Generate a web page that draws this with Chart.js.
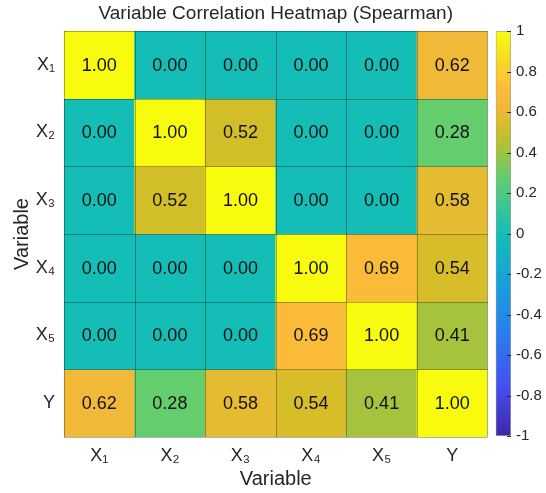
<!DOCTYPE html>
<html>
<head>
<meta charset="utf-8">
<script src="https://cdn.jsdelivr.net/npm/chart.js@4/dist/chart.umd.min.js"></script>
<style>
  html, body { margin: 0; padding: 0; background: #fff; }
  #wrap { position: relative; width: 546px; height: 493px; }
  #heat { position: absolute; left: 0; top: 0; }
  #cbar { position: absolute; left: 490px; top: 0; }
</style>
</head>
<body>
<div id="wrap">
  <canvas id="heat" width="546" height="493"></canvas>
  <canvas id="cbar" width="56" height="493"></canvas>
</div>
<script>
// data
const colLabels = ["X\u2081", "X\u2082", "X\u2083", "X\u2084", "X\u2085", "Y"];
const rowLabels = ["X\u2081", "X\u2082", "X\u2083", "X\u2084", "X\u2085", "Y"];
const rowX1 = [1.00, 0.00, 0.00, 0.00, 0.00, 0.62];
const rowX2 = [0.00, 1.00, 0.52, 0.00, 0.00, 0.28];
const rowX3 = [0.00, 0.52, 1.00, 0.00, 0.00, 0.58];
const rowX4 = [0.00, 0.00, 0.00, 1.00, 0.69, 0.54];
const rowX5 = [0.00, 0.00, 0.00, 0.69, 1.00, 0.41];
const rowY = [0.62, 0.28, 0.58, 0.54, 0.41, 1.00];
const rows = [rowX1, rowX2, rowX3, rowX4, rowX5, rowY];
const cbarTicks = [1, 0.8, 0.6, 0.4, 0.2, 0, -0.2, -0.4, -0.6, -0.8, -1];
const titleText = "Variable Correlation Heatmap (Spearman)";

const FONT = '"Liberation Sans", Arial, Helvetica, sans-serif';
const TXT = "#262626";

// parula-like colormap, value -> rgb
const parula = [
  [-1.0, [62, 38, 168]],
  [-0.75, [70, 80, 240]],
  [-0.5, [40, 125, 240]],
  [-0.25, [22, 160, 220]],
  [0.0, [20, 190, 182]],
  [0.28, [100, 205, 110]],
  [0.41, [165, 195, 60]],
  [0.52, [210, 190, 40]],
  [0.62, [240, 185, 55]],
  [0.72, [254, 188, 58]],
  [0.86, [245, 220, 35]],
  [1.0, [249, 251, 14]],
];

function colorFor(v) {
  for (let i = 1; i < parula.length; i++) {
    const [v1, c1] = parula[i];
    const [v0, c0] = parula[i - 1];
    if (v <= v1) {
      const t = (v - v0) / (v1 - v0);
      const c = c0.map((a, k) => Math.round(a + (c1[k] - a) * t));
      return "rgb(" + c.join(",") + ")";
    }
  }
  return "rgb(249,251,14)";
}

// values in cells, cell grid lines and title over the plot
const heatExtras = {
  id: "heatExtras",
  afterDatasetsDraw(chart) {
    const ctx = chart.ctx;
    const xs = chart.scales.x;
    const ys = chart.scales.y;
    const area = chart.chartArea;
    ctx.save();

    ctx.font = "18px " + FONT;
    ctx.fillStyle = "#111";
    ctx.textAlign = "center";
    ctx.textBaseline = "middle";
    chart.data.datasets.forEach((ds, i) => {
      chart.getDatasetMeta(i).data.forEach((bar, j) => {
        const y = (bar.y + bar.base) / 2;
        ctx.fillText(rows[i][j].toFixed(2), bar.x, y + 1);
      });
    });

    // cell borders
    const half = (xs.getPixelForValue(1) - xs.getPixelForValue(0)) / 2;
    ctx.strokeStyle = "rgba(0,0,0,0.3)";
    ctx.lineWidth = 1;
    ctx.beginPath();
    for (let i = 0; i <= colLabels.length; i++) {
      const px = Math.round(xs.getPixelForValue(i) - half) + 0.5;
      ctx.moveTo(px, area.top);
      ctx.lineTo(px, area.bottom);
    }
    for (let i = 0; i <= rowLabels.length; i++) {
      const py = Math.round(ys.getPixelForValue(i)) + 0.5;
      ctx.moveTo(area.left, py);
      ctx.lineTo(area.right, py);
    }
    ctx.stroke();

    // title centred on the plot
    ctx.font = "19px " + FONT;
    ctx.fillStyle = TXT;
    ctx.fillText(titleText, (area.left + area.right) / 2, 14);
    ctx.restore();
  },
};

new Chart(document.getElementById("heat"), {
  type: "bar",
  data: {
    labels: colLabels,
    datasets: rows.map((row, r) => ({
      data: row.map(() => [r, r + 1]),
      backgroundColor: row.map(colorFor),
      borderWidth: 0,
      grouped: false,
      barPercentage: 1,
      categoryPercentage: 1,
    })),
  },
  options: {
    responsive: false,
    animation: false,
    layout: { padding: { top: 31, right: 58.5 } },
    plugins: {
      legend: { display: false },
      tooltip: { enabled: false },
    },
    scales: {
      x: {
        grid: { display: false, drawTicks: false },
        border: { display: false },
        ticks: { color: TXT, font: { family: FONT, size: 18 }, padding: 8 },
        title: {
          display: true,
          text: "Variable",
          color: TXT,
          font: { family: FONT, size: 20 },
          padding: { top: 0, bottom: 2 },
        },
        afterFit(scale) {
          scale.height = 56;
        },
      },
      y: {
        type: "linear",
        min: 0,
        max: 6,
        reverse: true,
        grid: { display: false, drawTicks: false },
        border: { display: false },
        afterBuildTicks(scale) {
          scale.ticks = rowLabels.map((_, i) => ({ value: i + 0.5 }));
        },
        ticks: {
          color: TXT,
          font: { family: FONT, size: 18 },
          padding: 9,
          callback: (v) => rowLabels[Math.floor(v)],
        },
        title: {
          display: true,
          text: "Variable",
          color: TXT,
          font: { family: FONT, size: 20 },
          padding: { top: 10, bottom: 0 },
        },
        afterFit(scale) {
          scale.width = 64;
        },
      },
    },
  },
  plugins: [heatExtras],
});

// colorbar, tick marks sit on the inside of the bar's right edge
const innerTicks = {
  id: "innerTicks",
  afterDatasetsDraw(chart) {
    const ctx = chart.ctx;
    const y = chart.scales.y;
    const bar = chart.getDatasetMeta(0).data[0];
    const right = bar.x + bar.width / 2;
    ctx.save();
    ctx.strokeStyle = TXT;
    ctx.lineWidth = 1;
    cbarTicks.forEach((v) => {
      const py = Math.round(y.getPixelForValue(v)) + 0.5;
      ctx.beginPath();
      ctx.moveTo(right - 4, py);
      ctx.lineTo(right, py);
      ctx.stroke();
    });
    ctx.restore();
  },
};

new Chart(document.getElementById("cbar"), {
  type: "bar",
  data: {
    labels: [""],
    datasets: [
      {
        data: [[-1, 1]],
        backgroundColor(context) {
          const area = context.chart.chartArea;
          if (!area) return null;
          const g = context.chart.ctx.createLinearGradient(0, area.bottom, 0, area.top);
          parula.forEach(([v]) => g.addColorStop((v + 1) / 2, colorFor(v)));
          return g;
        },
        borderColor: "#a0a0a0",
        borderWidth: 1,
        borderSkipped: false,
        barPercentage: 1,
        categoryPercentage: 1,
      },
    ],
  },
  options: {
    responsive: false,
    animation: false,
    layout: { padding: { left: 5.7, top: 31, bottom: 57 } },
    plugins: { legend: { display: false }, tooltip: { enabled: false } },
    scales: {
      x: { display: false },
      y: {
        position: "right",
        min: -1,
        max: 1,
        grid: { display: false, drawTicks: false },
        border: { display: false },
        afterBuildTicks(scale) {
          scale.ticks = cbarTicks.map((v) => ({ value: v }));
        },
        ticks: {
          color: TXT,
          font: { family: FONT, size: 15 },
          padding: 5,
          callback: (v) => String(Math.round(v * 10) / 10),
        },
        afterFit(scale) {
          scale.width = 35;
        },
      },
    },
  },
  plugins: [innerTicks],
});
</script>
</body>
</html>
